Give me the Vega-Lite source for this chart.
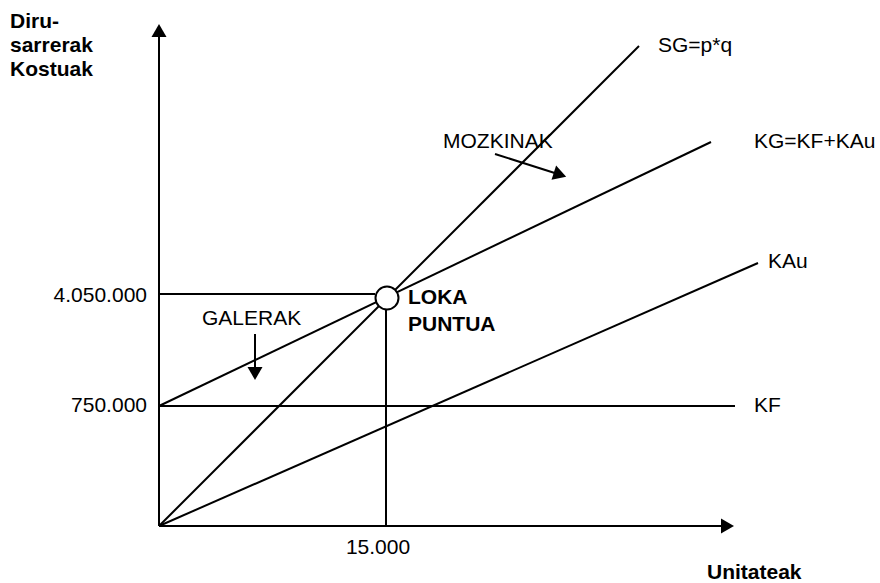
{
  "$schema": "https://vega.github.io/schema/vega-lite/v6.json",
  "width": 880,
  "height": 583,
  "autosize": {"type": "none"},
  "padding": 0,
  "background": "white",
  "config": {"view": {"stroke": null}, "text": {"font": "Liberation Sans", "fontSize": 21, "color": "#000"}},
  "datasets": {
    "segments": [
      {"name": "y-axis", "x": 0, "y": 0, "x2": 0, "y2": 490},
      {"name": "x-axis", "x": 0, "y": 0, "x2": 563, "y2": 0},
      {"name": "SG", "x": 0, "y": 0, "x2": 480, "y2": 480},
      {"name": "KG", "x": 0, "y": 120, "x2": 552, "y2": 384},
      {"name": "KAu", "x": 0, "y": 0, "x2": 599, "y2": 263},
      {"name": "KF", "x": 0, "y": 120, "x2": 576, "y2": 120},
      {"name": "4.050.000 guide", "x": 0, "y": 232, "x2": 216, "y2": 232},
      {"name": "15.000 guide", "x": 227, "y": 0, "x2": 227, "y2": 216},
      {"name": "GALERAK arrow", "x": 96, "y": 192, "x2": 96, "y2": 152},
      {"name": "MOZKINAK arrow", "x": 336, "y": 372, "x2": 402, "y2": 351}
    ],
    "arrowheads": [
      {"name": "y-axis", "x": 0, "y": 495.5, "heading": 270},
      {"name": "x-axis", "x": 568.5, "y": 0, "heading": 0},
      {"name": "GALERAK", "x": 96, "y": 152.5, "heading": 90},
      {"name": "MOZKINAK", "x": 401, "y": 351.3, "heading": 17.7}
    ],
    "breakeven": [{"name": "LOKA PUNTUA", "x": 228, "y": 228}],
    "labelsLeft": [
      {"label": "SG=p*q", "x": 499, "y": 480},
      {"label": "KG=KF+KAu", "x": 595, "y": 384},
      {"label": "KAu", "x": 609, "y": 264},
      {"label": "KF", "x": 595, "y": 120},
      {"label": "GALERAK", "x": 43, "y": 207},
      {"label": "MOZKINAK", "x": 284, "y": 384}
    ],
    "labelsRight": [
      {"label": "4.050.000", "x": -12, "y": 230},
      {"label": "750.000", "x": -12, "y": 120}
    ],
    "labelsCenter": [
      {"label": "15.000", "x": 219, "y": -22}
    ],
    "labelsBold": [
      {"label": "LOKA", "x": 249, "y": 228},
      {"label": "PUNTUA", "x": 249, "y": 201},
      {"label": "Unitateak", "x": 548, "y": -47},
      {"label": "Diru-", "x": -149, "y": 504},
      {"label": "sarrerak", "x": -149, "y": 480},
      {"label": "Kostuak", "x": -149, "y": 456}
    ]
  },
  "encoding": {
    "x": {"field": "x", "type": "quantitative", "axis": null, "scale": {"domain": [-159, 721], "nice": false, "zero": false}},
    "y": {"field": "y", "type": "quantitative", "axis": null, "scale": {"domain": [-57, 526], "nice": false, "zero": false}}
  },
  "layer": [
    {
      "data": {"name": "segments"},
      "mark": {"type": "rule", "color": "#000", "strokeWidth": 2},
      "encoding": {
        "x2": {"field": "x2"},
        "y2": {"field": "y2"}
      }
    },
    {
      "data": {"name": "arrowheads"},
      "mark": {"type": "point", "shape": "triangle-right", "filled": true, "color": "#000", "opacity": 1, "size": 225},
      "encoding": {
        "angle": {"field": "heading", "type": "quantitative", "scale": {"domain": [0, 360], "range": [0, 360]}, "legend": null}
      }
    },
    {
      "data": {"name": "breakeven"},
      "mark": {"type": "point", "shape": "circle", "filled": false, "fill": "white", "stroke": "#000", "strokeWidth": 2, "opacity": 1, "size": 529}
    },
    {
      "data": {"name": "labelsLeft"},
      "mark": {"type": "text", "align": "left", "baseline": "middle"},
      "encoding": {"text": {"field": "label"}}
    },
    {
      "data": {"name": "labelsRight"},
      "mark": {"type": "text", "align": "right", "baseline": "middle"},
      "encoding": {"text": {"field": "label"}}
    },
    {
      "data": {"name": "labelsCenter"},
      "mark": {"type": "text", "align": "center", "baseline": "middle"},
      "encoding": {"text": {"field": "label"}}
    },
    {
      "data": {"name": "labelsBold"},
      "mark": {"type": "text", "align": "left", "baseline": "middle", "fontWeight": "bold"},
      "encoding": {"text": {"field": "label"}}
    }
  ]
}
